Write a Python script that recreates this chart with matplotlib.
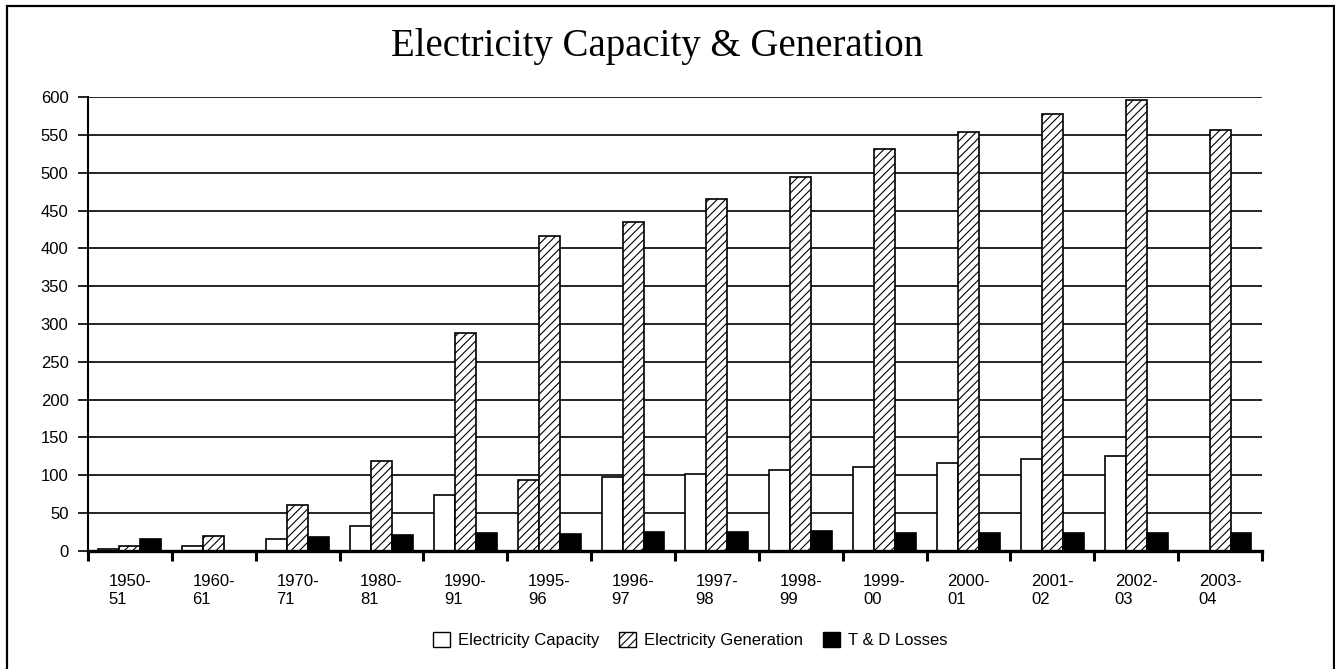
import matplotlib.pyplot as plt
import numpy as np
from matplotlib.patches import Rectangle, Patch

plt.rcParams['font.family'] = 'Liberation Sans'
plt.rcParams['hatch.linewidth'] = 0.8

years = ['1950-\n51', '1960-\n61', '1970-\n71', '1980-\n81', '1990-\n91', '1995-\n96',
         '1996-\n97', '1997-\n98', '1998-\n99', '1999-\n00', '2000-\n01', '2001-\n02',
         '2002-\n03', '2003-\n04']
capacity = [2.6, 5.8, 15.5, 32.6, 74.0, 94.2, 97.7, 101.3, 106.5, 111.4, 116.7, 121.5, 125.0, 0]
generation = [6.2, 19.8, 60.3, 118.9, 288.3, 416.8, 435.3, 464.8, 495.0, 531.7, 553.7, 577.9, 596.0, 556.8]
td_losses = [15.4, 0, 17.7, 20.7, 23.0, 22.0, 24.3, 24.3, 26.4, 23.0, 23.0, 23.0, 23.0, 23.0]

fig = plt.figure(figsize=(13.35, 6.69), dpi=100)
ax = fig.add_axes([0.0659, 0.1768, 0.8794, 0.6778])

# outer frame round the whole chart
fig.patches.append(Rectangle((0.0056, -0.02), 0.9933, 1.0103, transform=fig.transFigure,
                             fill=False, edgecolor='black', linewidth=1.6))

x = np.arange(len(years)) + 0.5
w = 0.25
cap_bars = ax.bar(x - w, capacity, w, color='white', edgecolor='black', linewidth=1.2, zorder=3)
# the 1995-96 capacity bar is shaded like the generation series
cap_bars[5].set_hatch('////')
ax.bar(x, generation, w, color='white', edgecolor='black', hatch='////', linewidth=1.2, zorder=3)
ax.bar(x + w, td_losses, w, color='black', edgecolor='black', linewidth=1.2, zorder=3)

ax.set_xlim(0, len(years))
ax.set_ylim(0, 600)
ax.set_yticks(np.arange(0, 601, 50))
ax.yaxis.grid(True, color='black', linewidth=1.2, zorder=1)
ax.tick_params(axis='y', direction='out', length=7, width=1.2, labelsize=12, pad=7)

ax.set_xticks(np.arange(0, len(years) + 1))
ax.set_xticklabels([])
ax.tick_params(axis='x', which='major', direction='out', length=7, width=2.2)
ax.set_xticks(x, minor=True)
ax.set_xticklabels(years, minor=True, fontsize=12, multialignment='left')
ax.tick_params(axis='x', which='minor', length=0, pad=17)

for s in ['top', 'right']:
    ax.spines[s].set_visible(False)
ax.spines['left'].set_linewidth(1.5)
ax.spines['bottom'].set_linewidth(2.4)
ax.spines['bottom'].set_zorder(4)

fig.suptitle('Electricity Capacity & Generation', x=0.492, y=0.958, fontsize=28,
             family='Liberation Serif')

handles = [Patch(facecolor='white', edgecolor='black', linewidth=1),
           Patch(facecolor='white', edgecolor='black', hatch='////', linewidth=1),
           Patch(facecolor='black', edgecolor='black', linewidth=1)]
fig.legend(handles, ['Electricity Capacity', 'Electricity Generation', 'T & D Losses'],
           loc='center left', bbox_to_anchor=(433 / 1335, 0.043), ncol=3, frameon=False,
           borderpad=0, borderaxespad=0, fontsize=12, handlelength=1.0, handleheight=1.0,
           handletextpad=0.5, columnspacing=1.2)

plt.savefig('out.png', dpi=100)
